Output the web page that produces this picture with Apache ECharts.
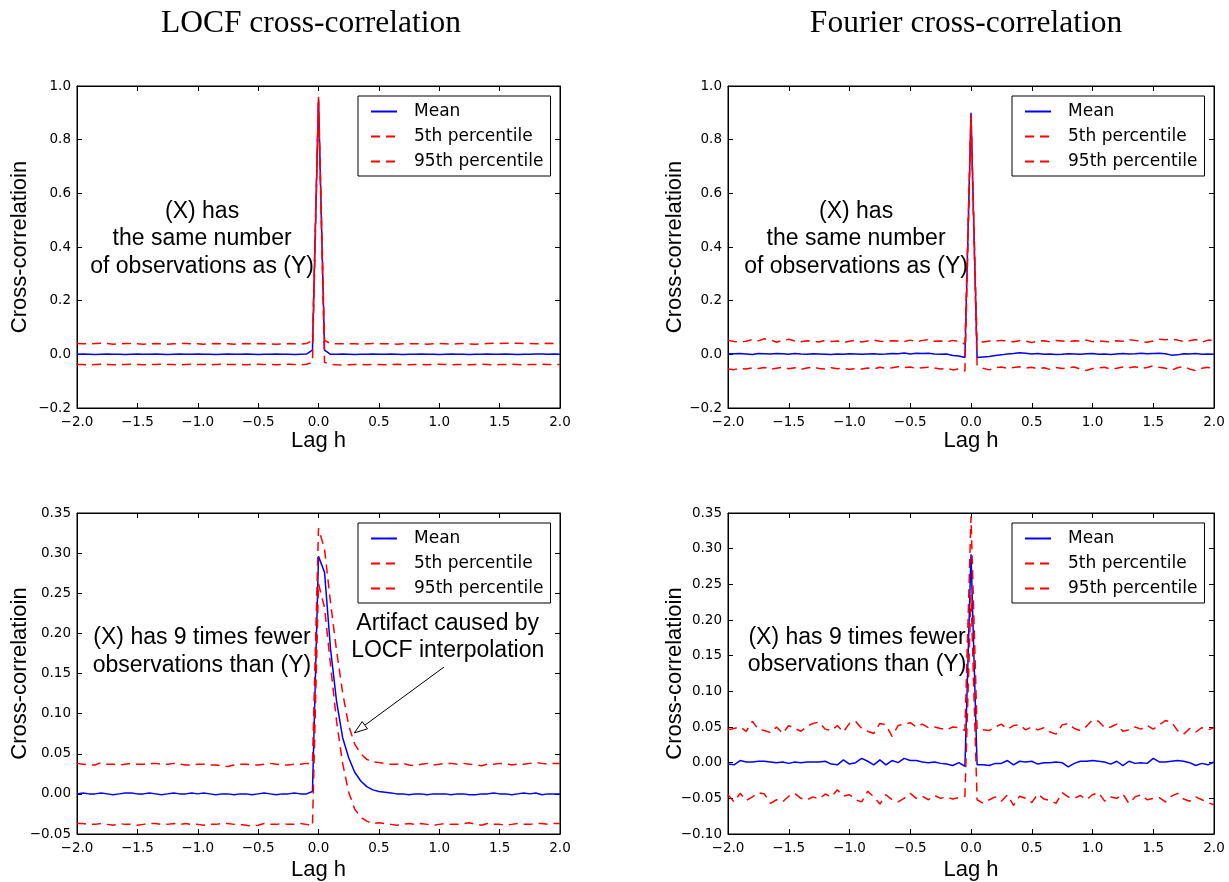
<!DOCTYPE html>
<html><head><meta charset="utf-8">
<script src="https://cdn.jsdelivr.net/npm/echarts@6/dist/echarts.min.js"></script>
<style>html,body{margin:0;padding:0;background:#fff}#c{width:1229px;height:882px}</style>
</head><body><div id="c"></div>
<script>
const lags = [
-2.00,-1.95,-1.90,-1.85,-1.80,-1.75,-1.70,-1.65,-1.60,-1.55,
-1.50,-1.45,-1.40,-1.35,-1.30,-1.25,-1.20,-1.15,-1.10,-1.05,
-1.00,-0.95,-0.90,-0.85,-0.80,-0.75,-0.70,-0.65,-0.60,-0.55,
-0.50,-0.45,-0.40,-0.35,-0.30,-0.25,-0.20,-0.15,-0.10,-0.05,
0.00,0.05,0.10,0.15,0.20,0.25,0.30,0.35,0.40,0.45,
0.50,0.55,0.60,0.65,0.70,0.75,0.80,0.85,0.90,0.95,
1.00,1.05,1.10,1.15,1.20,1.25,1.30,1.35,1.40,1.45,
1.50,1.55,1.60,1.65,1.70,1.75,1.80,1.85,1.90,1.95,
2.00];

// Panel A: LOCF, same number of observations
const meanA = [
0.000,0.001,0.000,-0.001,0.000,0.001,0.000,0.000,-0.001,0.000,
0.001,0.000,0.000,0.001,0.000,-0.001,0.000,0.001,0.000,0.000,
0.001,0.000,0.000,-0.001,0.000,0.001,0.000,0.000,0.001,0.000,
-0.001,0.000,0.000,0.001,0.000,0.000,-0.001,0.000,0.001,0.016,
0.950,0.016,0.000,0.000,0.001,0.000,-0.001,0.000,0.000,0.001,
0.000,0.000,0.001,0.000,-0.001,0.000,0.000,0.001,0.000,0.000,
-0.001,0.000,0.001,0.000,0.000,-0.001,0.000,0.000,0.001,0.000,
0.000,0.001,0.000,-0.001,0.000,0.000,0.001,0.001,0.000,0.001,
0.000];
const p95A = [
0.040,0.039,0.039,0.040,0.041,0.040,0.038,0.039,0.040,0.040,
0.039,0.038,0.039,0.040,0.039,0.038,0.039,0.040,0.040,0.039,
0.039,0.038,0.039,0.040,0.039,0.039,0.038,0.039,0.040,0.039,
0.040,0.039,0.039,0.038,0.039,0.040,0.039,0.038,0.040,0.052,
0.960,0.052,0.040,0.039,0.039,0.040,0.039,0.038,0.039,0.040,
0.040,0.039,0.039,0.038,0.039,0.040,0.039,0.039,0.038,0.039,
0.040,0.039,0.038,0.039,0.040,0.039,0.038,0.039,0.040,0.041,
0.040,0.041,0.042,0.041,0.040,0.040,0.039,0.040,0.041,0.040,
0.040];
const p5A = [
-0.038,-0.038,-0.039,-0.038,-0.037,-0.038,-0.039,-0.038,-0.038,-0.037,
-0.038,-0.039,-0.038,-0.038,-0.037,-0.038,-0.038,-0.039,-0.038,-0.037,
-0.038,-0.038,-0.039,-0.038,-0.037,-0.038,-0.038,-0.038,-0.039,-0.038,
-0.037,-0.038,-0.038,-0.039,-0.038,-0.037,-0.038,-0.039,-0.037,-0.030,
0.940,-0.030,-0.037,-0.039,-0.040,-0.039,-0.038,-0.038,-0.039,-0.038,
-0.038,-0.039,-0.038,-0.037,-0.038,-0.039,-0.038,-0.038,-0.039,-0.038,
-0.037,-0.038,-0.039,-0.038,-0.038,-0.039,-0.038,-0.037,-0.038,-0.039,
-0.038,-0.038,-0.037,-0.038,-0.039,-0.038,-0.038,-0.037,-0.038,-0.038,
-0.038];

// Panel B: Fourier, same number of observations
const meanB = [
0.002,0.002,0.003,0.001,-0.001,0.003,0.002,0.001,0.003,0.002,
0.000,0.003,0.001,0.000,0.002,0.001,0.000,-0.001,0.001,0.000,
0.002,0.001,0.000,0.001,0.002,0.000,0.001,0.003,0.002,0.005,
0.001,0.004,0.003,0.004,0.001,0.000,0.001,-0.004,-0.006,-0.012,
0.900,-0.012,-0.010,-0.008,-0.004,-0.002,0.001,0.003,0.006,0.004,
0.001,0.003,0.000,0.001,-0.001,0.000,0.002,0.001,0.000,0.002,
0.003,0.000,0.001,-0.001,0.001,0.003,0.001,0.002,0.004,0.002,
0.003,0.004,0.002,-0.003,-0.002,0.002,0.001,0.003,0.000,0.001,
0.000];
const p95B = [
0.052,0.048,0.046,0.049,0.055,0.050,0.058,0.054,0.045,0.053,
0.056,0.050,0.047,0.051,0.049,0.046,0.052,0.048,0.050,0.044,
0.049,0.052,0.046,0.050,0.053,0.049,0.047,0.051,0.050,0.048,
0.053,0.047,0.052,0.055,0.049,0.050,0.046,0.052,0.048,0.038,
0.895,0.045,0.046,0.050,0.049,0.052,0.050,0.047,0.051,0.049,
0.044,0.049,0.051,0.047,0.052,0.050,0.046,0.051,0.049,0.053,
0.047,0.050,0.048,0.046,0.051,0.049,0.055,0.052,0.048,0.045,
0.050,0.056,0.054,0.057,0.053,0.048,0.051,0.055,0.045,0.053,
0.052];
const p5B = [
-0.055,-0.057,-0.052,-0.055,-0.050,-0.053,-0.049,-0.056,-0.052,-0.048,
-0.054,-0.050,-0.056,-0.051,-0.047,-0.053,-0.055,-0.050,-0.054,-0.052,
-0.056,-0.053,-0.055,-0.051,-0.054,-0.048,-0.052,-0.050,-0.046,-0.049,
-0.047,-0.053,-0.050,-0.048,-0.051,-0.055,-0.052,-0.058,-0.054,-0.062,
0.885,-0.040,-0.052,-0.058,-0.050,-0.047,-0.052,-0.049,-0.046,-0.051,
-0.048,-0.054,-0.050,-0.056,-0.049,-0.053,-0.051,-0.047,-0.055,-0.060,
-0.053,-0.050,-0.048,-0.055,-0.052,-0.047,-0.050,-0.046,-0.053,-0.049,
-0.043,-0.048,-0.052,-0.059,-0.050,-0.045,-0.055,-0.061,-0.052,-0.048,
-0.058];

// Panel C: LOCF, 9 times fewer observations
const meanC = [
0.000,0.001,0.000,0.000,0.001,0.000,-0.001,0.000,0.001,0.001,
0.000,0.000,0.001,0.000,-0.001,0.000,0.001,0.000,0.000,0.001,
0.000,0.001,0.000,-0.001,0.000,0.000,-0.001,0.000,0.000,-0.001,
0.000,0.001,0.000,-0.001,0.000,0.000,0.001,0.000,0.000,0.003,
0.296,0.276,0.180,0.115,0.070,0.045,0.027,0.016,0.009,0.005,
0.003,0.002,0.001,0.000,0.000,-0.001,0.000,0.000,-0.001,0.000,
0.000,0.000,-0.001,0.000,0.000,-0.001,-0.001,0.000,0.000,0.001,
0.000,0.000,-0.001,0.000,0.001,0.000,0.001,-0.001,0.000,0.000,
0.000];
const p95C = [
0.038,0.037,0.036,0.036,0.039,0.037,0.037,0.036,0.037,0.038,
0.037,0.037,0.038,0.038,0.037,0.037,0.038,0.037,0.036,0.036,
0.037,0.037,0.036,0.036,0.035,0.034,0.036,0.037,0.037,0.036,
0.036,0.037,0.038,0.037,0.036,0.036,0.037,0.037,0.038,0.038,
0.331,0.305,0.238,0.178,0.126,0.085,0.062,0.050,0.043,0.040,
0.039,0.038,0.037,0.037,0.038,0.036,0.035,0.037,0.038,0.036,
0.037,0.038,0.038,0.037,0.038,0.037,0.036,0.035,0.037,0.037,
0.038,0.038,0.036,0.037,0.037,0.038,0.039,0.038,0.037,0.038,
0.038];
const p5C = [
-0.037,-0.037,-0.038,-0.038,-0.037,-0.038,-0.039,-0.037,-0.038,-0.038,
-0.039,-0.038,-0.037,-0.037,-0.038,-0.038,-0.037,-0.038,-0.037,-0.038,
-0.038,-0.039,-0.038,-0.038,-0.037,-0.037,-0.038,-0.038,-0.039,-0.040,
-0.039,-0.037,-0.038,-0.038,-0.037,-0.038,-0.038,-0.037,-0.038,-0.040,
0.262,0.232,0.160,0.090,0.038,0.002,-0.019,-0.029,-0.034,-0.037,
-0.036,-0.037,-0.038,-0.039,-0.038,-0.037,-0.038,-0.037,-0.038,-0.039,
-0.038,-0.037,-0.038,-0.038,-0.037,-0.036,-0.038,-0.039,-0.037,-0.038,
-0.038,-0.039,-0.038,-0.037,-0.038,-0.038,-0.037,-0.037,-0.038,-0.037,
-0.037];

// Panel D: Fourier, 9 times fewer observations
const meanD = [
-0.002,-0.003,0.003,0.001,0.001,0.002,0.002,0.001,0.000,0.001,
-0.001,0.001,0.000,0.001,0.001,0.001,0.002,-0.002,-0.003,0.004,
-0.002,0.000,0.006,0.002,-0.003,0.004,-0.003,0.003,0.000,0.006,
0.003,0.003,0.001,0.000,0.001,-0.001,-0.002,-0.004,0.000,-0.005,
0.292,-0.003,-0.003,-0.004,-0.001,-0.001,0.003,-0.003,0.002,0.001,
0.002,-0.002,0.000,0.000,0.001,0.000,-0.006,-0.001,0.002,0.002,
0.003,0.002,0.001,-0.002,0.002,-0.004,0.002,-0.001,0.000,-0.001,
0.006,0.001,0.001,0.002,0.003,0.002,0.000,-0.004,-0.001,-0.003,
0.001];
const p95D = [
0.046,0.048,0.050,0.044,0.058,0.047,0.045,0.042,0.050,0.041,
0.052,0.048,0.044,0.051,0.055,0.057,0.047,0.045,0.052,0.043,
0.055,0.058,0.048,0.044,0.041,0.055,0.053,0.037,0.052,0.054,
0.056,0.050,0.054,0.049,0.050,0.048,0.046,0.050,0.049,0.045,
0.345,0.047,0.046,0.045,0.050,0.054,0.047,0.052,0.053,0.046,
0.050,0.046,0.049,0.043,0.040,0.053,0.055,0.048,0.045,0.051,
0.060,0.058,0.049,0.050,0.054,0.044,0.046,0.050,0.047,0.052,
0.047,0.053,0.059,0.057,0.045,0.040,0.048,0.043,0.049,0.046,
0.049];
const p5D = [
-0.045,-0.055,-0.043,-0.053,-0.048,-0.042,-0.044,-0.057,-0.052,-0.055,
-0.047,-0.043,-0.050,-0.052,-0.048,-0.051,-0.044,-0.048,-0.038,-0.047,
-0.045,-0.052,-0.055,-0.040,-0.048,-0.058,-0.045,-0.052,-0.055,-0.050,
-0.043,-0.050,-0.047,-0.052,-0.046,-0.050,-0.048,-0.051,-0.049,-0.047,
0.235,-0.052,-0.057,-0.052,-0.048,-0.054,-0.045,-0.060,-0.047,-0.050,
-0.056,-0.044,-0.051,-0.053,-0.057,-0.042,-0.048,-0.050,-0.046,-0.052,
-0.045,-0.042,-0.054,-0.048,-0.050,-0.044,-0.057,-0.048,-0.045,-0.052,
-0.050,-0.049,-0.055,-0.047,-0.043,-0.051,-0.054,-0.048,-0.052,-0.056,
-0.059];

const xTickLabels = ['\u22122.0','\u22121.5','\u22121.0','\u22120.5','0.0','0.5','1.0','1.5','2.0'];
const yTickLabelsTop = ['\u22120.2','0.0','0.2','0.4','0.6','0.8','1.0'];
const yTickLabelsC = ['\u22120.05','0.00','0.05','0.10','0.15','0.20','0.25','0.30','0.35'];
const yTickLabelsD = ['\u22120.10','\u22120.05','0.00','0.05','0.10','0.15','0.20','0.25','0.30','0.35'];

const seriesNames = ['Mean','5th percentile','95th percentile'];
const panelTitles = ['LOCF cross-correlation','Fourier cross-correlation'];
const noteSame = '(X) has\nthe same number\nof observations as (Y)';
const noteFewer = '(X) has 9 times fewer\nobservations than (Y)';
const noteArtifact = 'Artifact caused by\nLOCF interpolation';
// annotation anchor points in data units [lag, value]
const notePos = [[-0.964, 0.430], [-0.946, 0.430], [-0.965, 0.177], [-0.938, 0.156]];
const artifactPos = [1.07, 0.195];
const arrowC = [1.039, 0.158, 0.297, 0.076]; // tail x,y -> head x,y

const panels = [
  {grid:{left:77,top:86,width:483,height:322}, ymin:-0.2, ymax:1.0, yint:0.2, ylab:yTickLabelsTop, mean:meanA, p5:p5A, p95:p95A, legend:{left:358,top:96}, yGap:46, xGap:22, note:noteSame},
  {grid:{left:728,top:86,width:486,height:322}, ymin:-0.2, ymax:1.0, yint:0.2, ylab:yTickLabelsTop, mean:meanB, p5:p5B, p95:p95B, legend:{left:1012,top:96}, yGap:42, xGap:22, note:noteSame},
  {grid:{left:77,top:513,width:483,height:322}, ymin:-0.05, ymax:0.35, yint:0.05, ylab:yTickLabelsC, mean:meanC, p5:p5C, p95:p95C, legend:{left:358,top:523}, yGap:46, xGap:25, note:noteFewer},
  {grid:{left:728,top:513,width:486,height:322}, ymin:-0.10, ymax:0.35, yint:0.05, ylab:yTickLabelsD, mean:meanD, p5:p5D, p95:p95D, legend:{left:1012,top:523}, yGap:42, xGap:25, note:noteFewer}
];

const tickFont = {fontFamily:'DejaVu Sans', fontSize:13.5, color:'#000'};
const sansFont = 'Liberation Sans';
const grid = [], xAxis = [], yAxis = [], series = [], legend = [];
const noteLabel = (txt) => ({show:true, position:'inside', formatter:txt, fontFamily:sansFont, fontSize:23,
  lineHeight:27.5, color:'#000', opacity:1, textBorderWidth:0, textBorderColor:'transparent',
  align:'center', verticalAlign:'middle'});

panels.forEach((p, i) => {
  grid.push(Object.assign({show:true, borderColor:'#000', borderWidth:1, backgroundColor:'transparent'}, p.grid));
  const xb = {type:'value', gridIndex:i, min:-2, max:2, interval:0.5,
    axisLine:{show:true, onZero:false, lineStyle:{color:'#000', width:1}},
    axisTick:{show:true, inside:true, length:5, lineStyle:{color:'#000'}},
    splitLine:{show:false}};
  xAxis.push(Object.assign({}, xb, {position:'bottom',
    axisLabel:Object.assign({show:true, margin:7, formatter:(v)=>xTickLabels[Math.round((v+2)/0.5)]}, tickFont),
    name:'Lag h', nameLocation:'middle', nameGap:p.xGap, nameMoveOverlap:false,
    nameTextStyle:{fontFamily:sansFont, fontSize:22, color:'#000'}}));
  const yb = {type:'value', gridIndex:i, min:p.ymin, max:p.ymax, interval:p.yint,
    axisLine:{show:true, onZero:false, lineStyle:{color:'#000', width:1}},
    axisTick:{show:true, inside:true, length:5, lineStyle:{color:'#000'}},
    splitLine:{show:false}};
  yAxis.push(Object.assign({}, yb, {position:'left',
    axisLabel:Object.assign({show:true, margin:6, formatter:(v)=>p.ylab[Math.round((v-p.ymin)/p.yint)]}, tickFont),
    name:'Cross-correlatioin', nameLocation:'middle', nameGap:p.yGap, nameRotate:90, nameMoveOverlap:false,
    nameTextStyle:{fontFamily:sansFont, fontSize:22, color:'#000'}}));
  legend.push({show:true, orient:'vertical', left:p.legend.left, top:p.legend.top,
    data:seriesNames, itemWidth:26, itemHeight:14, itemGap:0,
    padding:[3,7,2,12], borderColor:'#000', borderWidth:1, borderRadius:0,
    backgroundColor:'#fff', selectedMode:false,
    itemStyle:{opacity:0, borderWidth:0, color:'transparent'},
    textStyle:{fontFamily:'DejaVu Sans', fontSize:17, color:'#000', lineHeight:25, padding:[0,0,0,12]}});
  const vals = [p.mean, p.p5, p.p95];
  vals.forEach((arr, k) => {
    series.push({type:'line', name:seriesNames[k], xAxisIndex:i, yAxisIndex:i,
      data:lags.map((x, j) => [x, arr[j]]),
      symbol:'none', showSymbol:false, animation:false, z:2+k,
      lineStyle: k === 0 ? {color:'#0000ff', width:1.5, type:'solid'} : {color:'#ff0000', width:1.5, type:[9,6]},
      itemStyle:{color: k === 0 ? '#0000ff' : '#ff0000'}});
  });
  series.push({type:'scatter', name:'note'+i, xAxisIndex:i, yAxisIndex:i, data:[notePos[i]],
    symbolSize:0.01, itemStyle:{color:'transparent'}, silent:true, z:10, animation:false,
    label:noteLabel(p.note)});
});

// secondary axes for ticks on top/right
panels.forEach((p, i) => {
  xAxis.push({type:'value', gridIndex:i, position:'top', min:-2, max:2, interval:0.5,
    axisLine:{show:true, onZero:false, lineStyle:{color:'#000'}},
    axisTick:{show:true, inside:true, length:5, lineStyle:{color:'#000'}},
    axisLabel:{show:false}, splitLine:{show:false}});
  yAxis.push({type:'value', gridIndex:i, position:'right', min:p.ymin, max:p.ymax, interval:p.yint,
    axisLine:{show:true, onZero:false, lineStyle:{color:'#000'}},
    axisTick:{show:true, inside:true, length:5, lineStyle:{color:'#000'}},
    axisLabel:{show:false}, splitLine:{show:false}});
});

series.push({type:'scatter', name:'artifact', xAxisIndex:2, yAxisIndex:2, data:[artifactPos],
  symbolSize:0.01, itemStyle:{color:'transparent'}, silent:true, z:10, animation:false,
  label:noteLabel(noteArtifact)});

series.push({type:'custom', name:'arrow', xAxisIndex:2, yAxisIndex:2, data:[arrowC], clip:false, silent:true, z:11, animation:false,
  renderItem:(params, api) => {
    const a = api.coord([api.value(0), api.value(1)]);
    const b = api.coord([api.value(2), api.value(3)]);
    const dx = b[0]-a[0], dy = b[1]-a[1];
    const len = Math.hypot(dx, dy), ux = dx/len, uy = dy/len;
    const L = 13, W = 4.5;
    const base = [b[0]-ux*L, b[1]-uy*L];
    const q1 = [base[0]-uy*W, base[1]+ux*W], q2 = [base[0]+uy*W, base[1]-ux*W];
    return {type:'group', children:[
      {type:'line', shape:{x1:a[0], y1:a[1], x2:base[0], y2:base[1]}, style:{stroke:'#000', lineWidth:1}},
      {type:'polygon', shape:{points:[b, q1, q2]}, style:{fill:'#fff', stroke:'#000', lineWidth:1}}
    ]};
  }});

const chart = echarts.init(document.getElementById('c'), null, {renderer:'canvas'});
chart.setOption({
  backgroundColor:'#fff',
  animation:false,
  grid, xAxis, yAxis, series, legend,
  graphic:[
    {type:'text', x:311, y:24, style:{text:panelTitles[0], font:'31.5px "Liberation Serif"', fill:'#000', align:'center', verticalAlign:'middle', textAlign:'center', textVerticalAlign:'middle'}},
    {type:'text', x:966, y:24, style:{text:panelTitles[1], font:'31.5px "Liberation Serif"', fill:'#000', align:'center', verticalAlign:'middle', textAlign:'center', textVerticalAlign:'middle'}}
  ]
});
</script></body></html>
